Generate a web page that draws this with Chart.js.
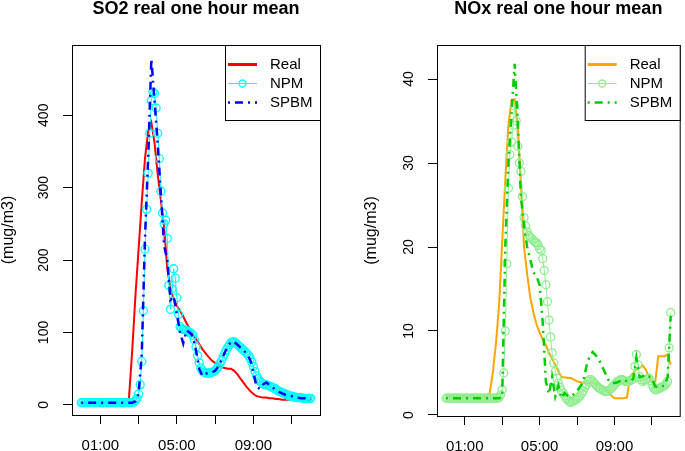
<!DOCTYPE html>
<html>
<head>
<meta charset="utf-8">
<script src="https://cdn.jsdelivr.net/npm/chart.js@4.4.0/dist/chart.umd.min.js"></script>
<style>
  html, body { margin: 0; padding: 0; background: #fff; }
  #wrap { position: relative; width: 685px; height: 451px; }
  canvas { position: absolute; top: 0; }
  #so2 { left: 0; }
  #nox { left: 342px; }
</style>
</head>
<body>
<div id="wrap">
  <canvas id="so2" width="342" height="451"></canvas>
  <canvas id="nox" width="343" height="451"></canvas>
</div>
<script>
// time of day in minutes, 10 min steps (Real, SPBM), 00:00 - 12:00
const minutes = [0,10,20,30,40,50,60,70,80,90,100,110,120,130,140,150,160,170,180,190,
  200,210,220,230,240,250,260,270,280,290,300,310,320,330,340,350,360,370,380,390,
  400,410,420,430,440,450,460,470,480,490,500,510,520,530,540,550,560,570,580,590,
  600,610,620,630,640,650,660,670,680,690,700,710,720];

// NPM is plotted with points, 5 min steps
const npmMinutes = [0,5,10,15,20,25,30,35,40,45,50,55,60,65,70,75,80,85,90,95,
  100,105,110,115,120,125,130,135,140,145,150,155,160,165,170,175,180,185,190,195,
  200,205,210,215,220,225,230,235,240,245,250,255,260,265,270,275,280,285,290,295,
  300,305,310,315,320,325,330,335,340,345,350,355,360,365,370,375,380,385,390,395,
  400,405,410,415,420,425,430,435,440,445,450,455,460,465,470,475,480,485,490,495,
  500,505,510,515,520,525,530,535,540,545,550,555,560,565,570,575,580,585,590,595,
  600,605,610,615,620,625,630,635,640,645,650,655,660,665,670,675,680,685,690,695,
  700,705,710,715,720];

const xTicks = [60, 180, 300, 420, 540, 660];
const xTickLabels = ['01:00', '', '05:00', '', '09:00', ''];

const seriesNames = ['Real', 'NPM', 'SPBM'];

// SO2
const so2Real = [3,3,3,3,3,3,3,3,3,3,3,3,3,3,3,
  10,75,150,215,280,340,378,390,362,318,
  282,245,188,160,147,137,130,122,113,105,
  97,91,84,77,71,66,61,58,55,52,
  51,50,50,47,42,36,30,24,19,15,
  12,11,10,10,9,9,8,8,7,7,
  7,7,6,6,6,6,6,6];
const so2Npm = [3,3,3,3,3,3,3,3,3,3,3,3,3,3,3,3,3,3,3,3,3,3,3,3,3,3,3,3,3,3,3,3,3,
  4,6,9,15,28,60,130,215,270,320,
  375,420,432,430,410,375,340,295,265,250,
  255,230,165,132,160,188,175,148,125,108,
  105,104,104,103,101,100,99,96,90,80,
  68,58,51,47,45,44,44,44,44,45,
  46,47,50,53,57,61,66,71,76,80,
  83,86,87,87,85,83,81,79,77,75,
  73,71,68,64,59,53,46,40,36,33,
  31,29,28,28,27,26,25,24,23,22,
  20,19,18,17,16,15,14,13,12,12,
  11,11,10,10,10,10,9,9,9,9,
  9,9];
const so2Spbm = [3,3,3,3,3,3,3,3,3,3,3,3,3,3,3,3,3,
  5,15,70,230,340,478,420,360,290,220,
  200,145,150,125,100,85,103,100,95,75,
  50,40,43,44,45,47,53,62,72,81,
  87,87,83,79,75,70,62,45,25,22,
  28,31,28,24,21,18,16,14,13,12,
  11,10,9,9,8,8];
const so2Ticks = [0, 100, 200, 300, 400];

// NOx
const noxReal = [2.3,2.3,2.3,2.3,2.3,2.3,2.3,2.3,2.3,2.3,2.3,2.3,2.3,2.3,
  2.6,5.0,8.5,13,20.5,28,34.5,37.5,37.6,34.5,
  27.5,20,16.8,14,12.2,10.8,9.8,9.0,8.3,7.4,
  6.7,6.0,5.2,4.5,4.5,4.4,4.4,4.2,4.0,3.9,
  3.8,3.8,3.8,3.8,3.7,3.6,3.4,3.2,2.8,2.3,
  2.0,2.0,2.0,2.0,2.1,4.6,5.0,5.4,5.6,5.9,
  5.4,4.6,4.0,3.8,7.0,7.0,7.0,7.2,6.0];
const noxNpm = [2.0,2.0,2.0,2.0,2.0,2.0,2.0,2.0,2.0,2.0,2.0,2.0,2.0,2.0,2.0,2.0,2.0,
  2.0,2.0,2.0,2.0,2.0,2.0,2.0,2.0,2.0,2.0,2.0,2.0,2.0,2.0,2.0,2.0,2.0,
  2.1,2.4,3.0,5,10,18,27,31,32.5,34.5,
  36.8,35,32,30,29,26,23.5,22.5,21.8,21.4,
  21.2,21.0,20.8,20.6,20.5,20.2,19.8,19.6,18.6,17.2,
  15.5,13.5,11.3,9.3,7.4,6.2,5.2,4.4,3.8,3.3,
  2.9,2.6,2.3,2.0,1.8,1.6,1.5,1.6,1.7,1.8,
  1.9,2.1,2.3,2.6,2.9,3.3,3.6,4.0,4.2,4.2,
  4.0,3.8,3.6,3.4,3.2,3.1,3.0,2.9,2.8,2.8,
  2.8,3.0,3.2,3.4,3.6,3.8,4.0,4.1,4.2,4.2,
  4.1,4.0,4.0,4.0,4.1,4.2,4.3,5.8,7.2,6.0,
  4.6,4.2,4.0,4.1,4.2,4.3,4.4,4.1,3.6,3.2,
  3.0,3.0,3.1,3.2,3.3,3.4,3.5,3.7,4.0,8.0,
  12.2];
const noxSpbm = [2.0,2.0,2.0,2.0,2.0,2.0,2.0,2.0,2.0,2.0,2.0,2.0,2.0,2.0,2.0,2.0,2.0,2.0,
  2.1,20,30,36,41.8,35,26,22.5,20,18.5,
  17,16.5,15.5,11,4,2.5,4.5,2.2,3.5,2.0,
  2.6,2.3,2.2,2.5,2.9,3.4,4.0,5.8,7.0,7.5,
  7.1,6.6,5.8,5.0,4.2,3.8,3.8,3.9,4.1,4.2,
  4.0,4.0,4.3,6.8,4.5,4.6,4.8,4.6,4.4,3.4,
  3.3,3.4,3.5,4.5,11.8];
const noxTicks = [0, 10, 20, 30, 40];

const FONT = '"Liberation Sans", Arial, Helvetica, sans-serif';
Chart.defaults.font.family = FONT;
Chart.defaults.color = '#000';

// box around the plot region + R style legend in the top right corner
const rFrame = {
    id: 'rFrame',
    afterDatasetsDraw(chart) {
        const ctx = chart.ctx;
        const a = chart.chartArea;
        ctx.save();
        ctx.strokeStyle = '#000';
        ctx.lineWidth = 1;
        ctx.setLineDash([]);
        ctx.strokeRect(a.left + 0.5, a.top + 0.5, a.right - a.left, a.bottom - a.top);

        const w = 95, h = 75;
        const lx = a.right - w, ly = a.top;
        ctx.fillStyle = '#fff';
        ctx.fillRect(lx + 0.5, ly + 0.5, w, h);
        ctx.strokeRect(lx + 0.5, ly + 0.5, w, h);

        chart.data.datasets.forEach((ds, i) => {
            const y = ly + 19 * (i + 1) + 0.5;
            ctx.beginPath();
            ctx.setLineDash(ds.borderDash || []);
            ctx.strokeStyle = ds.borderColor;
            ctx.lineWidth = ds.legendWidth || ds.borderWidth;
            ctx.moveTo(lx + 3, y);
            ctx.lineTo(lx + 32, y);
            ctx.stroke();
            ctx.setLineDash([]);
            if (ds.pointRadius > 0) {
                ctx.beginPath();
                ctx.lineWidth = ds.pointBorderWidth;
                ctx.arc(lx + 17.5, y, 3.5, 0, Math.PI * 2);
                ctx.stroke();
            }
            ctx.fillStyle = '#000';
            ctx.font = '15px ' + FONT;
            ctx.textBaseline = 'middle';
            ctx.textAlign = 'left';
            ctx.fillText(ds.label, lx + 45, y);
        });
        ctx.restore();
    }
};

function points(times, values) {
    return times.map((m, i) => ({ x: m, y: values[i] }));
}

function buildDatasets(real, npm, spbm, colors) {
    return [
        {
            label: seriesNames[0], data: points(minutes, real),
            borderColor: colors[0], borderWidth: 2, legendWidth: 3,
            pointRadius: 0, tension: 0, order: 2
        },
        {
            label: seriesNames[1], data: points(npmMinutes, npm),
            borderColor: colors[1], borderWidth: 1,
            pointRadius: 4, pointBorderWidth: 1.3,
            pointBorderColor: colors[1], pointBackgroundColor: 'rgba(0,0,0,0)',
            tension: 0, order: 1
        },
        {
            label: seriesNames[2], data: points(minutes, spbm),
            borderColor: colors[2], borderWidth: 2.5, borderDash: [2, 5, 8, 5],
            pointRadius: 0, tension: 0, order: 0
        }
    ];
}

function makeChart(id, cfg) {
    const tickGrid = { drawOnChartArea: false, drawTicks: true, tickLength: 9, color: '#000', lineWidth: 1 };
    return new Chart(document.getElementById(id), {
        type: 'line',
        data: { datasets: cfg.datasets },
        options: {
            responsive: false,
            animation: false,
            devicePixelRatio: 1,
            layout: { padding: cfg.padding },
            plugins: {
                legend: { display: false },
                tooltip: { enabled: false },
                title: {
                    display: true, text: cfg.title, fullSize: false, color: '#000',
                    font: { size: 18, weight: 'bold', lineHeight: 1 },
                    padding: { top: 0, bottom: 27 }
                }
            },
            scales: {
                x: {
                    type: 'linear', min: -28.8, max: 748.8,
                    afterBuildTicks: s => { s.ticks = xTicks.map(v => ({ value: v })); },
                    afterFit: s => { s.height = cfg.xHeight; },
                    ticks: {
                        autoSkip: false, maxRotation: 0, padding: 13, color: '#000',
                        font: { size: 15 },
                        callback: v => xTickLabels[xTicks.indexOf(v)]
                    },
                    grid: tickGrid,
                    border: { display: false }
                },
                y: {
                    type: 'linear', min: cfg.yMin, max: cfg.yMax,
                    afterBuildTicks: s => { s.ticks = cfg.yTicks.map(v => ({ value: v })); },
                    afterFit: s => { s.width = cfg.yWidth; },
                    ticks: {
                        minRotation: 90, maxRotation: 90, crossAlign: 'center',
                        padding: cfg.yPad, color: '#000', font: { size: 14 }
                    },
                    grid: tickGrid,
                    border: { display: false },
                    title: {
                        display: true, text: '(mug/m3)', color: '#000',
                        font: { size: 16, lineHeight: 1.1 }, padding: { top: 0, bottom: 0 }
                    }
                }
            }
        },
        plugins: [rFrame]
    });
}

makeChart('so2', {
    title: 'SO2 real one hour mean',
    datasets: buildDatasets(so2Real, so2Npm, so2Spbm, ['#FF0000', '#00FFFF', '#0000FF']),
    padding: { left: 0, right: 22, top: 0, bottom: 0 },
    yMin: -14, yMax: 497, yTicks: so2Ticks,
    yWidth: 72, yPad: 7, xHeight: 36
});

makeChart('nox', {
    title: 'NOx real one hour mean',
    datasets: buildDatasets(noxReal, noxNpm, noxSpbm, ['#FFA500', '#90EE90', '#00CD00']),
    padding: { left: 21, right: 1, top: 0, bottom: 0 },
    yMin: -0.12, yMax: 44.05, yTicks: noxTicks,
    yWidth: 74, yPad: 11, xHeight: 35
});
</script>
</body>
</html>
